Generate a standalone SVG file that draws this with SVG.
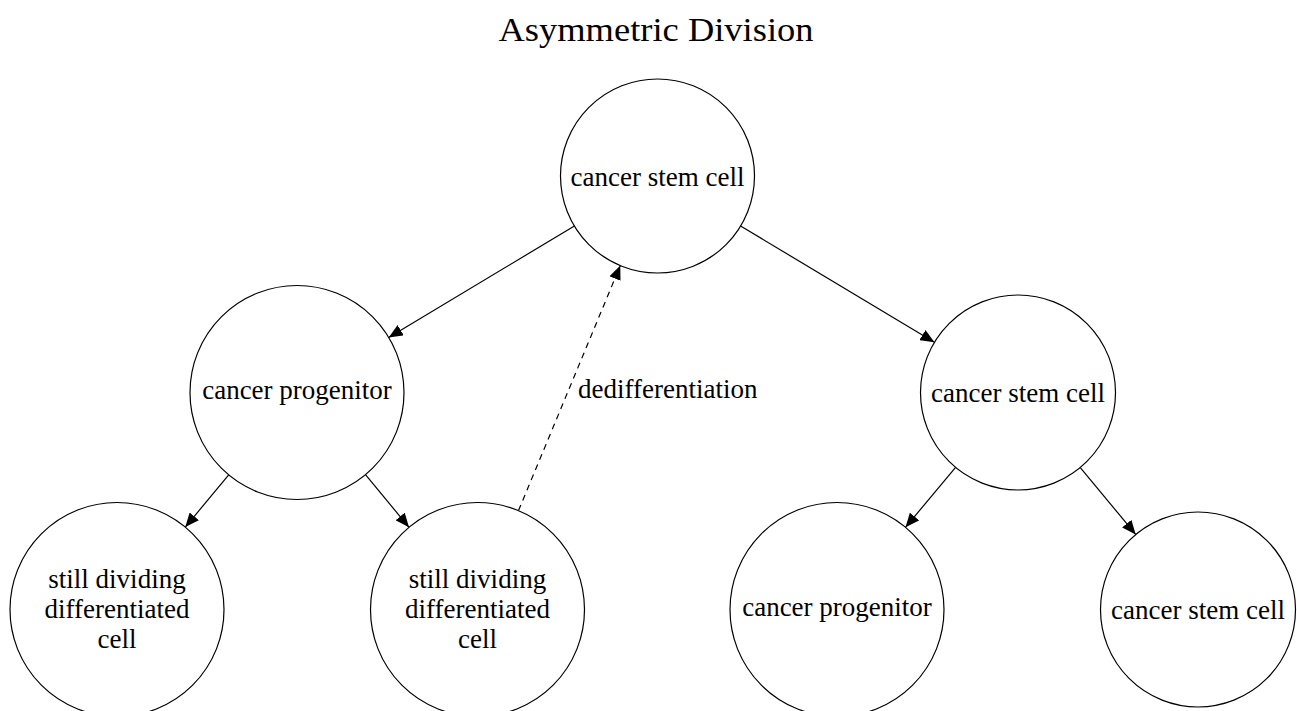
<svg xmlns="http://www.w3.org/2000/svg" width="1297" height="711" viewBox="0 0 1297 711" font-family="'Liberation Serif', serif">
<style>
.node circle{fill:#fff;stroke:#000;stroke-width:1.2}
.lbl{font-family:"Liberation Serif",serif;font-size:27px;text-anchor:middle;fill:#000}
.title{font-family:"Liberation Serif",serif;font-size:34px;text-anchor:middle;fill:#000}
.edge{stroke:#000;stroke-width:1.2;fill:none;marker-end:url(#arr)}
.dash{stroke-dasharray:6 5}
</style>
<defs>
<marker id="arr" markerUnits="userSpaceOnUse" markerWidth="15" markerHeight="12" refX="14" refY="6" orient="auto">
<path d="M0,0 L14,6 L0,12 Z" fill="#000"/>
</marker>
</defs>
<rect width="1297" height="711" fill="#fff"/>
<text class="title" x="656" y="41" textLength="315" lengthAdjust="spacingAndGlyphs">Asymmetric Division</text>
<g id="connectors">
<line class="edge" x1="574.4" y1="226" x2="388.7" y2="337.4"/>
<line class="edge" x1="740.6" y1="226" x2="934.4" y2="342.3"/>
<line class="edge" x1="228.7" y1="474.9" x2="185.3" y2="527.1"/>
<line class="edge" x1="365.5" y1="474.7" x2="409" y2="527.3"/>
<line class="edge" x1="955.6" y1="467.4" x2="905.5" y2="527.3"/>
<line class="edge" x1="1080.3" y1="467.6" x2="1135.7" y2="534.4"/>
<line class="edge dash" x1="518.5" y1="510.6" x2="620.3" y2="265.6"/>
<text class="lbl" x="578" y="398" style="text-anchor:start">dedifferentiation</text>
</g>
<g id="n_top" class="node">
<circle cx="657.5" cy="176" r="97"/>
<text class="lbl" x="657.5" y="185.5">cancer stem cell</text>
</g>
<g id="n_midleft" class="node">
<circle cx="297" cy="392.5" r="107"/>
<text class="lbl" x="297" y="399.3">cancer progenitor</text>
</g>
<g id="n_midright" class="node">
<circle cx="1018" cy="392.5" r="97.5"/>
<text class="lbl" x="1018" y="401.7">cancer stem cell</text>
</g>
<g id="n_b1" class="node">
<circle cx="117" cy="609.5" r="107"/>
<text class="lbl" x="117" y="588">still dividing</text>
<text class="lbl" x="117" y="618">differentiated</text>
<text class="lbl" x="117" y="648">cell</text>
</g>
<g id="n_b2" class="node">
<circle cx="477.5" cy="609.5" r="107"/>
<text class="lbl" x="477.5" y="588">still dividing</text>
<text class="lbl" x="477.5" y="618">differentiated</text>
<text class="lbl" x="477.5" y="648">cell</text>
</g>
<g id="n_b3" class="node">
<circle cx="837" cy="609.5" r="107"/>
<text class="lbl" x="837" y="615.5">cancer progenitor</text>
</g>
<g id="n_b4" class="node">
<circle cx="1198" cy="609.5" r="97.5"/>
<text class="lbl" x="1198" y="618.5">cancer stem cell</text>
</g>
</svg>
